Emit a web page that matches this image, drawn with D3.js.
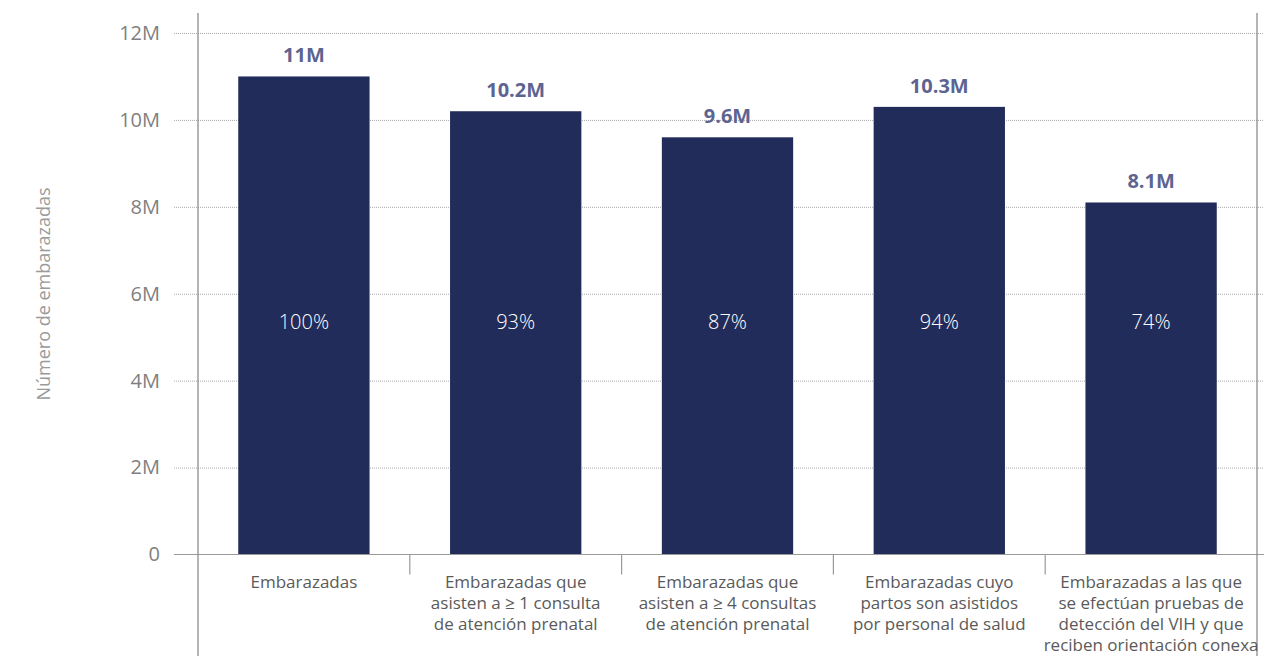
<!DOCTYPE html>
<html>
<head>
<meta charset="utf-8">
<script src="https://cdn.jsdelivr.net/npm/d3@7"></script>
<style>
  html, body { margin: 0; padding: 0; background: #fff; }
  svg { display: block; font-family: "Open Sans", "Noto Sans", sans-serif; }
</style>
</head>
<body>
<svg id="chart" width="1264" height="656"></svg>
<script>
// Pregnant women along the prenatal-care cascade (millions)
const categories = [
  ["Embarazadas"],
  ["Embarazadas que", "asisten a ≥ 1 consulta", "de atención prenatal"],
  ["Embarazadas que", "asisten a ≥ 4 consultas", "de atención prenatal"],
  ["Embarazadas cuyo", "partos son asistidos", "por personal de salud"],
  ["Embarazadas a las que", "se efectúan pruebas de", "detección del VIH y que", "reciben orientación conexa"]
];
const values = [11, 10.2, 9.6, 10.3, 8.1];
const valueLabels = ["11M", "10.2M", "9.6M", "10.3M", "8.1M"];
const shareLabels = ["100%", "93%", "87%", "94%", "74%"];
const yTicks = [0, 2, 4, 6, 8, 10, 12];
const yTickLabels = ["0", "2M", "4M", "6M", "8M", "10M", "12M"];
const yTitle = "Número de embarazadas";

const svg = d3.select("#chart");
const W = 1264, H = 656;
const plotLeft = 198, plotRight = 1257, plotTop = 13;

const x = d3.scaleBand()
  .domain(d3.range(categories.length))
  .range([plotLeft, plotRight])
  .paddingInner(0.38)
  .paddingOuter(0.19);

const y = d3.scaleLinear().domain([0, 12]).range([554.5, 33]);

// dotted horizontal gridlines
const grid = svg.append("g")
  .attr("transform", `translate(174,0)`)
  .call(d3.axisLeft(y).tickValues(yTicks.filter(t => t > 0)).tickSize(-(W - 174)).tickFormat(""));
grid.select(".domain").remove();
grid.selectAll(".tick line")
  .attr("stroke", "#a9a9a9")
  .attr("stroke-width", 1)
  .attr("stroke-dasharray", "1,1");

// y tick labels
const yAxis = svg.append("g")
  .attr("transform", `translate(160,0)`)
  .call(d3.axisLeft(y).tickValues(yTicks).tickSize(0).tickPadding(0)
    .tickFormat((d, i) => yTickLabels[i]));
yAxis.select(".domain").remove();
yAxis.selectAll("text")
  .attr("fill", "#7f7f7f")
  .style("font-size", "20px")
  .style("font-family", "'Open Sans', sans-serif")
  .style("font-weight", 400);

// bars
svg.append("g").selectAll("rect")
  .data(values)
  .join("rect")
  .attr("x", (d, i) => x(i))
  .attr("y", d => y(d))
  .attr("width", x.bandwidth())
  .attr("height", d => y(0) - y(d))
  .attr("fill", "#222c5a");

// value labels above bars
svg.append("g").selectAll("text")
  .data(values)
  .join("text")
  .attr("x", (d, i) => x(i) + x.bandwidth() / 2)
  .attr("y", d => y(d) - 14)
  .attr("text-anchor", "middle")
  .attr("fill", "#5d6491")
  .style("font-size", "20px")
  .style("font-weight", 700)
  .text((d, i) => valueLabels[i]);

// share labels inside bars
svg.append("g").selectAll("text")
  .data(shareLabels)
  .join("text")
  .attr("x", (d, i) => x(i) + x.bandwidth() / 2)
  .attr("y", 329)
  .attr("text-anchor", "middle")
  .attr("fill", "#ffffff")
  .style("font-size", "20px")
  .style("font-weight", 300)
  .text(d => d);

// baseline
svg.append("line")
  .attr("x1", 174).attr("x2", W)
  .attr("y1", y(0)).attr("y2", y(0))
  .attr("stroke", "#9a9a9a").attr("stroke-width", 1.2);

// vertical frame lines
[plotLeft, plotRight].forEach(px => {
  svg.append("line")
    .attr("x1", px).attr("x2", px)
    .attr("y1", plotTop).attr("y2", H)
    .attr("stroke", "#8c8c8c").attr("stroke-width", 1.3);
});

// category dividers
d3.range(1, categories.length).forEach(i => {
  const px = x(i) - x.step() * x.paddingInner() / 2;
  svg.append("line")
    .attr("x1", px).attr("x2", px)
    .attr("y1", y(0)).attr("y2", y(0) + 20)
    .attr("stroke", "#9a9a9a").attr("stroke-width", 1.2);
});

// category labels
const catG = svg.append("g").selectAll("text")
  .data(categories)
  .join("text")
  .attr("x", (d, i) => x(i) + x.bandwidth() / 2)
  .attr("y", 588)
  .attr("text-anchor", "middle")
  .attr("fill", "#5a5a5a")
  .style("font-size", "17px");
catG.selectAll("tspan")
  .data(d => d)
  .join("tspan")
  .attr("x", function () { return d3.select(this.parentNode).attr("x"); })
  .attr("dy", (d, j) => j === 0 ? 0 : 21)
  .text(d => d);

// y axis title
svg.append("text")
  .attr("transform", `translate(50,294) rotate(-90)`)
  .attr("text-anchor", "middle")
  .attr("fill", "#9a9a9a")
  .style("font-size", "18px")
  .text(yTitle);
</script>
</body>
</html>
